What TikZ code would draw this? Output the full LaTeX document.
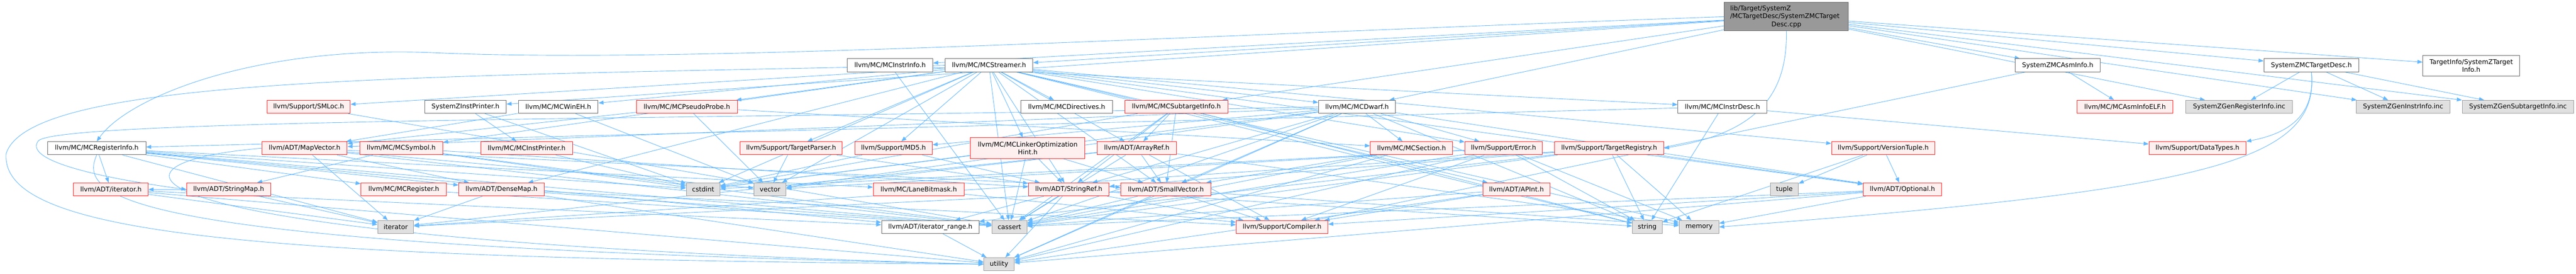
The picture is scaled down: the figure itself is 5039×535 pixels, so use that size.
\documentclass[tikz,border=0pt]{standalone}
\usepackage{fontspec}
\setmainfont{DejaVu Sans}
\usetikzlibrary{arrows.meta}
\definecolor{edgec}{HTML}{63B8FF}
\definecolor{redfill}{HTML}{FFF0F0}
\definecolor{reddraw}{HTML}{FF2020}
\definecolor{grayfill}{HTML}{E0E0E0}
\definecolor{graydraw}{HTML}{999999}
\definecolor{wdraw}{HTML}{666666}
\definecolor{mainfill}{HTML}{999999}
\pgfdeclarelayer{background}
\pgfsetlayers{background,main}
\tikzset{
  box/.style={rectangle, inner sep=0pt, minimum height=25.5pt, line width=1pt,
    font=\fontsize{12.7}{15.3}\selectfont, text=black, align=center},
  bw/.style={minimum width=#1},
  wbox/.style={box, draw=wdraw, fill=white},
  rbox/.style={box, draw=reddraw, fill=redfill},
  gbox/.style={box, draw=graydraw, fill=grayfill},
  mbox/.style={box, draw=wdraw, fill=mainfill},
  edge/.style={draw=edgec, line width=0.9pt, -{Triangle[length=10pt,width=7.5pt]}}
}
\begin{document}
\begin{tikzpicture}[x=1pt,y=1pt]
\useasboundingbox (0,0) rectangle (5039,-535);
% row 0
\node[mbox,bw=242.8,minimum height=55.6] (main) at (3494.4,-32.6)
  {\parbox{220pt}{\raggedright lib/Target/SystemZ\\/MCTargetDesc/SystemZMCTarget\par\centering Desc.cpp}};
% row 1
\node[wbox,bw=167.3] (instrinfo) at (1741,-127.6) {llvm/MC/MCInstrInfo.h};
\node[wbox,bw=171.8] (streamer) at (1934.5,-127.6) {llvm/MC/MCStreamer.h};
\node[wbox,bw=166.9] (asminfo) at (4025.1,-127.6) {SystemZMCAsmInfo.h};
\node[wbox,bw=185.6] (tdesch) at (4521.3,-127.6) {SystemZMCTargetDesc.h};
\node[wbox,bw=189.4,minimum height=40.3] (tinfo) at (4834,-128) {TargetInfo/SystemZTarget\\Info.h};
% row 2
\node[rbox,bw=162.6] (smloc) at (603.8,-208.7) {llvm/Support/SMLoc.h};
\node[wbox,bw=159.2] (instprn) at (910.5,-208.7) {SystemZInstPrinter.h};
\node[wbox,bw=156] (winEH) at (1092,-208.7) {llvm/MC/MCWinEH.h};
\node[rbox,bw=197.3] (pprobe) at (1343.6,-208.7) {llvm/MC/MCPseudoProbe.h};
\node[wbox,bw=178.9] (directives) at (2086.5,-208.7) {llvm/MC/MCDirectives.h};
\node[rbox,bw=201.6] (subtarget) at (2301.1,-208.7) {llvm/MC/MCSubtargetInfo.h};
\node[wbox,bw=150.7] (dwarf) at (2654.5,-208.7) {llvm/MC/MCDwarf.h};
\node[wbox,bw=174.4] (instrdesc) at (3369.3,-208.7) {llvm/MC/MCInstrDesc.h};
\node[rbox,bw=187.8] (asmelf) at (4156.9,-208.7) {llvm/MC/MCAsmInfoELF.h};
\node[gbox,bw=208] (genreg) at (4380,-208.7) {SystemZGenRegisterInfo.inc};
\node[gbox,bw=183] (geninstr) at (4700.8,-208.7) {SystemZGenInstrInfo.inc};
\node[gbox,bw=217.8] (gensub) at (4925.3,-208.7) {SystemZGenSubtargetInfo.inc};
% row 3
\node[wbox,bw=192] (reginfo) at (189.2,-289.5) {llvm/MC/MCRegisterInfo.h};
\node[rbox,bw=167] (mapvec) at (595.7,-289.5) {llvm/ADT/MapVector.h};
\node[rbox,bw=162.5] (symbol) at (784.8,-289.5) {llvm/MC/MCSymbol.h};
\node[rbox,bw=178.9] (mcinstprn) at (1030.2,-289.5) {llvm/MC/MCInstPrinter.h};
\node[rbox,bw=200] (tparser) at (1547.6,-289.5) {llvm/Support/TargetParser.h};
\node[rbox,bw=151.6] (md5) at (1747.8,-289.5) {llvm/Support/MD5.h};
\node[rbox,bw=223.9,minimum height=40.6] (lohint) at (2010.4,-289.3) {llvm/MC/MCLinkerOptimization\\Hint.h};
\node[rbox,bw=155] (arrayref) at (2223.6,-289.5) {llvm/ADT/ArrayRef.h};
\node[rbox,bw=161.5] (section) at (2761.2,-289.5) {llvm/MC/MCSection.h};
\node[rbox,bw=150.7] (error) at (2941.1,-289.5) {llvm/Support/Error.h};
\node[rbox,bw=213.6] (treg) at (3147.7,-289.5) {llvm/Support/TargetRegistry.h};
\node[rbox,bw=202.1] (vtuple) at (3683.8,-289.5) {llvm/Support/VersionTuple.h};
\node[rbox,bw=189.5] (datatypes) at (4298.5,-289.5) {llvm/Support/DataTypes.h};
% row 4
\node[rbox,bw=145.8] (iterh) at (217,-370) {llvm/ADT/iterator.h};
\node[rbox,bw=164.2] (strmap) at (447.4,-370) {llvm/ADT/StringMap.h};
\node[rbox,bw=167.4] (mcreg) at (789.9,-370) {llvm/MC/MCRegister.h};
\node[rbox,bw=167] (densemap) at (981,-370) {llvm/ADT/DenseMap.h};
\node[gbox,bw=66.1] (cstdint) at (1375.5,-370) {cstdint};
\node[gbox,bw=62.9] (vector) at (1506.2,-370) {vector};
\node[rbox,bw=177.8] (lanebm) at (1797.1,-370) {llvm/MC/LaneBitmask.h};
\node[rbox,bw=157.7] (strref) at (2090.6,-370) {llvm/ADT/StringRef.h};
\node[rbox,bw=175.6] (smallvec) at (2280.5,-370) {llvm/ADT/SmallVector.h};
\node[rbox,bw=131.7] (apint) at (2966.4,-370) {llvm/ADT/APInt.h};
\node[gbox,bw=54.7] (tuple) at (3490.4,-370) {tuple};
\node[rbox,bw=153.4] (optional) at (3721.3,-370) {llvm/ADT/Optional.h};
% row 5
\node[gbox,bw=70.4] (iterator) at (774,-443.3) {iterator};
\node[wbox,bw=190.8] (itrange) at (1819.8,-443.3) {llvm/ADT/iterator\_range.h};
\node[gbox,bw=68.8] (cassert) at (1974.6,-443.3) {cassert};
\node[rbox,bw=179.3] (compiler) at (2507.9,-443.3) {llvm/Support/Compiler.h};
\node[gbox,bw=58] (string) at (3222.2,-443.3) {string};
\node[gbox,bw=77.5] (memory) at (3323.6,-443.3) {memory};
% row 6
\node[gbox,bw=59.6] (utility) at (1954.2,-516) {utility};

\begin{pgfonlayer}{background}
\fill[white] (0,0) rectangle (5039,-535);
\foreach \s/\t in {
 main/tdesch, main/instprn, main/asminfo, main/tinfo, main/dwarf, main/instrinfo,
 main/streamer, main/subtarget, main/geninstr, main/gensub, main/genreg,
 tdesch/genreg, tdesch/geninstr, tdesch/gensub,
 asminfo/asmelf, asminfo/compiler,
 instprn/mcinstprn, instprn/cstdint,
 instrinfo/instrdesc, instrinfo/cassert,
 instrdesc/reginfo, instrdesc/datatypes, instrdesc/string,
 streamer/arrayref, streamer/densemap, streamer/optional, streamer/smallvec,
 streamer/strref, streamer/directives, streamer/dwarf, streamer/lohint,
 streamer/pprobe, streamer/winEH, streamer/error, streamer/md5, streamer/smloc,
 streamer/tparser, streamer/vtuple, streamer/cassert, streamer/cstdint,
 streamer/memory, streamer/string, streamer/vector, streamer/apint, streamer/symbol,
 symbol/strmap, symbol/strref, symbol/cassert, symbol/cstdint,
 dwarf/mapvec, dwarf/optional, dwarf/smallvec, dwarf/strref, dwarf/section,
 dwarf/error, dwarf/md5, dwarf/cassert, dwarf/cstdint, dwarf/string,
 dwarf/utility, dwarf/vector,
 subtarget/arrayref, subtarget/strref, subtarget/smallvec, subtarget/cassert,
 subtarget/cstdint, subtarget/string,
 reginfo/densemap, reginfo/iterh, reginfo/itrange, reginfo/lanebm, reginfo/mcreg,
 reginfo/cassert, reginfo/cstdint, reginfo/iterator,
 mapvec/densemap, mapvec/smallvec, mapvec/cassert, mapvec/iterator, mapvec/vector,
 mcinstprn/cstdint, tparser/strref, tparser/vector, md5/strref, md5/cstdint,
 lohint/smallvec, lohint/strref, lohint/cassert, lohint/cstdint,
 arrayref/smallvec, arrayref/compiler, arrayref/cassert, arrayref/iterator,
 arrayref/memory, arrayref/vector,
 section/smallvec, section/cassert, section/utility,
 error/compiler, error/cassert, error/cstdint, error/memory, error/string,
 error/utility, error/vector,
 treg/optional, treg/strref, treg/itrange, treg/cassert, treg/iterator,
 treg/memory, treg/string,
 vtuple/optional, vtuple/string, vtuple/tuple,
 iterh/itrange, iterh/iterator, iterh/utility,
 strmap/iterh, strmap/iterator, mcreg/cassert,
 densemap/compiler, densemap/cassert, densemap/iterator, densemap/utility,
 lanebm/compiler,
 strref/itrange, strref/compiler, strref/cassert, strref/string, strref/utility,
 smallvec/compiler, smallvec/cassert, smallvec/iterator, smallvec/memory, smallvec/utility,
 apint/compiler, apint/cassert, apint/utility,
 optional/compiler, optional/cassert, optional/memory, optional/utility,
 itrange/utility, smloc/cassert,
 winEH/mapvec, winEH/vector,
 pprobe/mapvec, pprobe/section, pprobe/vector}
 { \draw[edge] (\s) -- (\t); }
% curved routes
\draw[edge] (main.west) .. controls (2300,-70) and (1350,-125) .. (850,-103)
  .. controls (500,-88) and (250,-190) .. (reginfo.north);
\draw[edge] (main.south) .. controls (3497,-200) and (3420,-262) .. (treg.east);
\draw[edge] (tdesch.south) .. controls (4530,-230) and (4470,-262) .. (datatypes.north east);
\draw[edge] (tdesch.south) .. controls (4540,-320) and (4300,-372) .. (memory.east);
\draw[edge] (streamer.west) .. controls (800,-150) and (60,-150) .. (12,-300)
  .. controls (0,-460) and (500,-505) .. (utility.west);
\draw[edge] (dwarf.west) .. controls (1500,-233) and (120,-230) .. (75,-275)
  .. controls (40,-320) and (250,-355) .. (strmap.west);
\draw[edge] (reginfo.south) .. controls (150,-390) and (250,-480) .. (utility.west);
\draw[edge] (mapvec.west) .. controls (150,-320) and (200,-470) .. (utility.west);
\end{pgfonlayer}
\end{tikzpicture}
\end{document}
